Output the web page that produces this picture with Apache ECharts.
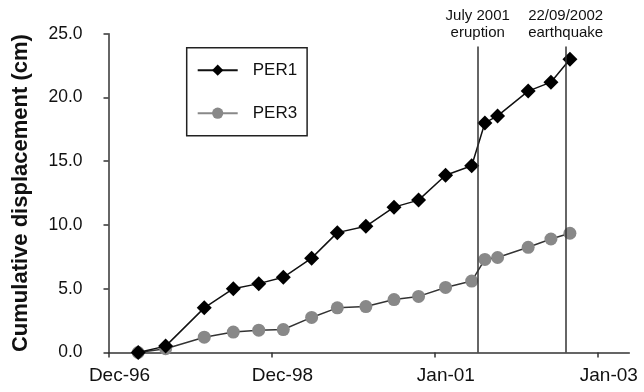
<!DOCTYPE html>
<html>
<head>
<meta charset="utf-8">
<script src="https://cdn.jsdelivr.net/npm/echarts@6/dist/echarts.min.js"></script>
<style>html,body{margin:0;padding:0;background:#fff}#c{width:644px;height:392px}</style>
</head>
<body>
<div id="c"></div>
<script>
// ---- data ----
const surveyDates = ['1997-05-13','1997-09-13','1998-03-05','1998-07-13','1998-11-04','1999-02-22','1999-06-29','1999-10-22','2000-02-27','2000-07-02','2000-10-20','2001-02-18','2001-06-15','2001-08-13','2001-10-09','2002-02-23','2002-06-05','2002-08-29'];
const per1 = [0.0, 0.5, 3.5, 5.0, 5.4, 5.9, 7.4, 9.4, 9.9, 11.4, 11.95, 13.9, 14.65, 18.0, 18.55, 20.5, 21.2, 23.0];
const per3 = [0.0, 0.3, 1.2, 1.6, 1.75, 1.8, 2.75, 3.5, 3.6, 4.15, 4.4, 5.1, 5.6, 7.3, 7.45, 8.25, 8.9, 9.35];
const seriesNames = ['PER1', 'PER3'];
const tickDates = ['1996-12-31', '1998-12-31', '2001-01-01', '2003-01-01'];
const tickLabels = ['Dec-96', 'Dec-98', 'Jan-01', 'Jan-03'];
const xStart = '1996-12-31';
const xEnd = '2003-05-22';
const eventDates = ['2001-07-12', '2002-08-10'];
const eventLabels = ['July 2001\neruption', '22/09/2002\nearthquake'];
const eventTop = 24;
const yTitle = 'Cumulative displacement (cm)';

// ---- build ----
const t = d => Date.parse(d);
const FONT = '"Liberation Sans", Arial, sans-serif';
const tickVals = tickDates.map(t);
const chart = echarts.init(document.getElementById('c'), null, {renderer: 'canvas'});
chart.setOption({
  animation: false,
  backgroundColor: '#fff',
  textStyle: {fontFamily: FONT},
  grid: {left: 108.5, right: 14.7, top: 33.7, bottom: 39.5},
  legend: {
    orient: 'vertical', left: 186.7, top: 47.7,
    backgroundColor: '#fff', borderColor: '#222', borderWidth: 1.5,
    padding: [14, 10, 14, 10],
    itemWidth: 40, itemHeight: 14, itemGap: 26,
    textStyle: {fontSize: 17, color: '#111', fontFamily: FONT, padding: [0, 0, 0, 10]},
    data: [
      {name: seriesNames[0]},
      {name: seriesNames[1], lineStyle: {color: '#888'}}
    ]
  },
  xAxis: {
    type: 'value', min: t(xStart), max: t(xEnd),
    splitLine: {show: false},
    axisLine: {lineStyle: {color: '#333', width: 1.5}},
    axisTick: {show: true, length: 5, customValues: tickVals, lineStyle: {color: '#333', width: 1.5}},
    axisLabel: {
      customValues: tickVals, fontSize: 19, color: '#111', margin: 14, fontFamily: FONT,
      padding: [0, 0, 0, 22],
      formatter: v => { const i = tickVals.indexOf(v); return i >= 0 ? tickLabels[i] : ''; }
    }
  },
  yAxis: {
    type: 'value', min: 0, max: 25, interval: 5,
    name: yTitle, nameLocation: 'middle', nameGap: 77,
    nameTextStyle: {fontSize: 22, fontWeight: 'bold', color: '#111', fontFamily: FONT},
    splitLine: {show: false},
    axisLine: {show: true, lineStyle: {color: '#333', width: 1.5}},
    axisTick: {show: true, length: 5, lineStyle: {color: '#333', width: 1.5}},
    axisLabel: {fontSize: 17.5, color: '#111', margin: 26, fontFamily: FONT, formatter: v => v.toFixed(1)}
  },
  series: [
    {
      name: seriesNames[1], type: 'line',
      data: surveyDates.map((d, i) => [t(d), per3[i]]),
      symbol: 'circle', symbolSize: 13,
      lineStyle: {color: '#333', width: 1.5},
      itemStyle: {color: '#888'},
      z: 2
    },
    {
      name: seriesNames[0], type: 'line',
      data: surveyDates.map((d, i) => [t(d), per1[i]]),
      symbol: 'diamond', symbolSize: [15, 15],
      lineStyle: {color: '#111', width: 1.5},
      itemStyle: {color: '#000'},
      z: 3,
      markLine: {
        silent: true, symbol: ['none', 'none'],
        lineStyle: {color: '#333', width: 1.5, type: 'solid'},
        label: {position: 'end', fontSize: 15, lineHeight: 17, color: '#111', fontFamily: FONT, distance: 5,
                formatter: p => p.name},
        data: eventDates.map((d, i) => [
          {name: eventLabels[i], coord: [t(d), 0]},
          {coord: [t(d), eventTop]}
        ])
      }
    }
  ]
});
</script>
</body>
</html>
